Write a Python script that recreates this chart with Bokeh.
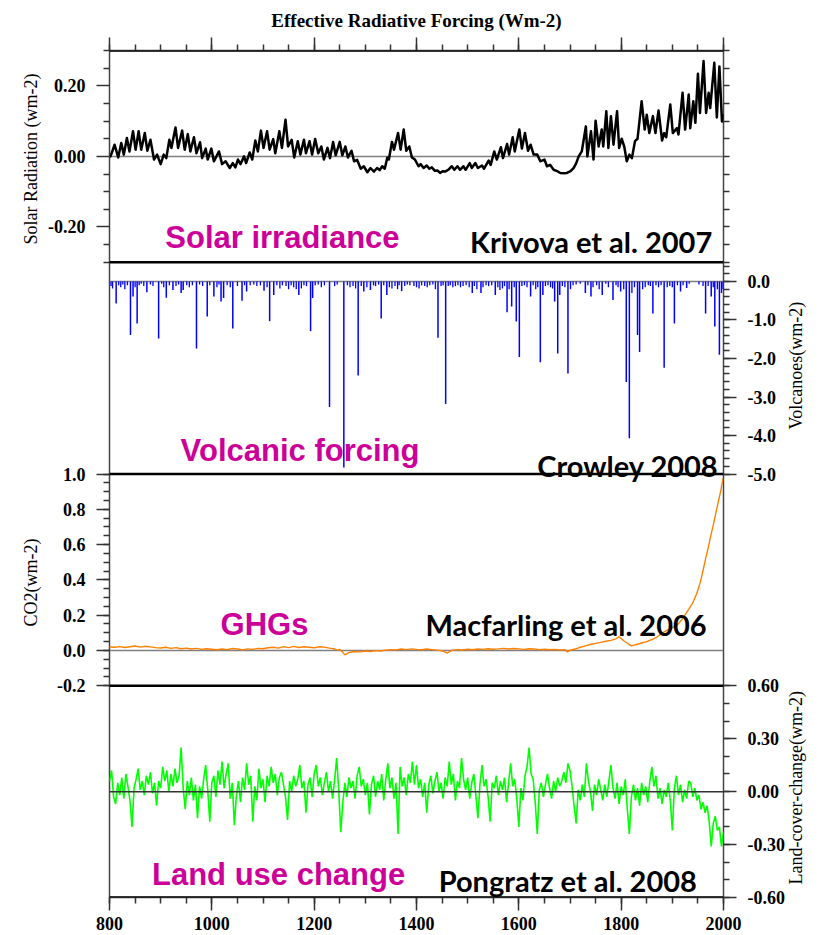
import math
from bokeh.plotting import figure
from bokeh.models import Range1d, LinearAxis, FixedTicker, Span, Label
from bokeh.embed import file_html
from bokeh.resources import INLINE

# ---------------- data ----------------
x_ticks = [800, 1000, 1200, 1400, 1600, 1800, 2000]
x_minor_ticks = list(range(800, 2001, 50))

solar_year = [
    800, 802, 810, 817, 823, 828, 834, 839, 846, 851,
    857, 862, 869, 874, 880, 887, 893, 900, 906, 911,
    917, 921, 929, 934, 942, 947, 953, 958, 965, 970,
    977, 981, 988, 992, 999, 1004, 1014, 1020, 1027, 1035,
    1041, 1046, 1051, 1056, 1063, 1067, 1074, 1079, 1085, 1090,
    1096, 1101, 1108, 1113, 1120, 1124, 1132, 1137, 1144, 1149,
    1156, 1161, 1168, 1173, 1180, 1184, 1191, 1196, 1202, 1208,
    1214, 1219, 1226, 1231, 1237, 1242, 1250, 1255, 1261, 1266,
    1273, 1278, 1284, 1291, 1297, 1304, 1310, 1317, 1323, 1328,
    1333, 1338, 1343, 1346, 1352, 1356, 1364, 1369, 1375, 1380,
    1386, 1391, 1397, 1404, 1408, 1414, 1420, 1425, 1430, 1436,
    1441, 1446, 1451, 1456, 1462, 1469, 1474, 1480, 1485, 1492,
    1496, 1504, 1508, 1515, 1520, 1528, 1532, 1541, 1545, 1552,
    1557, 1565, 1569, 1577, 1581, 1588, 1592, 1601, 1606, 1612,
    1618, 1623, 1629, 1636, 1642, 1650, 1655, 1661, 1668, 1675,
    1681, 1688, 1694, 1701, 1707, 1712, 1717, 1723, 1731, 1734,
    1741, 1746, 1750, 1756, 1762, 1765, 1771, 1775, 1780, 1785,
    1792, 1796, 1801, 1806, 1811, 1816, 1821, 1827, 1832, 1840,
    1846, 1850, 1855, 1862, 1867, 1873, 1880, 1884, 1888, 1896,
    1901, 1909, 1912, 1920, 1925, 1932, 1935, 1941, 1945, 1950,
    1954, 1961, 1966, 1971, 1974, 1982, 1987, 1992, 1997, 2000,
]
solar_value = [
    0.000, 0.000, 0.033, -0.003, 0.038, 0.005, 0.052, 0.014, 0.071, 0.019,
    0.071, 0.019, 0.066, 0.016, 0.047, -0.009, 0.005, -0.022, 0.005, -0.005,
    0.047, 0.024, 0.082, 0.024, 0.073, 0.019, 0.063, 0.014, 0.054, 0.009,
    0.040, -0.005, 0.022, -0.009, 0.022, -0.014, 0.014, -0.022, -0.014, -0.033,
    -0.019, -0.031, -0.009, -0.022, 0.000, -0.019, 0.011, -0.009, 0.045, 0.014,
    0.073, 0.024, 0.071, 0.019, 0.049, 0.009, 0.071, 0.024, 0.104, 0.028,
    0.047, -0.003, 0.043, 0.005, 0.047, 0.009, 0.043, 0.005, 0.049, 0.009,
    0.028, -0.009, 0.024, -0.005, 0.041, 0.003, 0.041, 0.003, 0.028, -0.003,
    0.016, -0.014, -0.010, -0.035, -0.028, -0.045, -0.033, -0.043, -0.033, -0.039,
    -0.028, -0.035, -0.003, -0.009, 0.041, 0.019, 0.066, 0.019, 0.076, 0.016,
    0.028, -0.003, -0.009, -0.028, -0.022, -0.033, -0.026, -0.035, -0.031, -0.041,
    -0.040, -0.047, -0.042, -0.043, -0.038, -0.028, -0.038, -0.028, -0.038, -0.028,
    -0.038, -0.019, -0.033, -0.019, -0.033, -0.026, -0.035, -0.012, -0.024, 0.014,
    -0.009, 0.026, -0.005, 0.035, 0.005, 0.054, 0.014, 0.076, 0.022, 0.066,
    0.016, 0.033, 0.005, 0.005, -0.014, -0.009, -0.028, -0.024, -0.038, -0.042,
    -0.047, -0.048, -0.047, -0.042, -0.033, -0.020, 0.000, 0.014, 0.085, 0.000,
    0.071, -0.009, 0.101, 0.028, 0.076, 0.028, 0.128, 0.024, 0.114, 0.033,
    0.128, 0.024, 0.050, 0.028, -0.014, 0.005, -0.005, 0.043, 0.050, 0.156,
    0.076, 0.118, 0.066, 0.114, 0.066, 0.130, 0.045, 0.066, 0.054, 0.147,
    0.066, 0.080, 0.062, 0.180, 0.076, 0.175, 0.080, 0.156, 0.095, 0.234,
    0.123, 0.270, 0.123, 0.180, 0.137, 0.265, 0.110, 0.255, 0.099, 0.120,
]

volc_major_year = [
    813, 841, 846, 854, 873, 896, 911, 924, 940, 944,
    970, 991, 1004, 1018, 1023, 1041, 1059, 1068, 1102, 1113,
    1121, 1170, 1193, 1197, 1230, 1258, 1286, 1297, 1310, 1331,
    1342, 1371, 1442, 1457, 1509, 1526, 1554, 1577, 1586, 1595,
    1601, 1623, 1642, 1647, 1670, 1676, 1680, 1696, 1730, 1741,
    1763, 1784, 1799, 1810, 1816, 1832, 1836, 1862, 1884, 1904,
    1916, 1928, 1965, 1976, 1983, 1992,
]
volc_major_value = [
    -0.57, -1.39, -0.39, -1.09, -0.28, -1.48, -0.42, -0.22, -0.30, -0.22,
    -1.74, -0.91, -0.39, -0.52, -0.43, -1.22, -0.50, -0.26, -0.24, -1.03,
    -0.35, -0.35, -1.29, -0.43, -3.26, -4.83, -2.44, -0.26, -0.22, -0.96,
    -0.35, -0.25, -1.46, -3.18, -0.30, -0.30, -0.35, -0.80, -0.65, -1.04,
    -1.96, -0.39, -2.10, -0.35, -0.52, -1.87, -0.35, -2.39, -0.30, -0.39,
    -0.35, -0.48, -0.26, -2.61, -4.07, -1.39, -1.83, -0.83, -2.24, -1.09,
    -0.26, -0.17, -0.83, -0.39, -1.17, -1.90,
]
volc_minor_year = [
    803, 806, 818, 822, 826, 830, 835, 850, 858, 862,
    867, 880, 885, 902, 906, 917, 930, 935, 951, 956,
    962, 976, 982, 996, 1010, 1014, 1030, 1036, 1050, 1064,
    1075, 1082, 1088, 1095, 1108, 1127, 1133, 1138, 1145, 1150,
    1155, 1160, 1165, 1175, 1180, 1185, 1202, 1208, 1214, 1220,
    1240, 1245, 1265, 1270, 1276, 1281, 1292, 1303, 1316, 1320,
    1326, 1336, 1347, 1352, 1358, 1363, 1366, 1377, 1382, 1387,
    1395, 1400, 1405, 1410, 1416, 1421, 1426, 1432, 1437, 1448,
    1452, 1462, 1466, 1471, 1476, 1481, 1486, 1491, 1497, 1503,
    1513, 1518, 1530, 1536, 1541, 1547, 1559, 1563, 1568, 1572,
    1581, 1591, 1606, 1611, 1616, 1628, 1633, 1637, 1652, 1657,
    1662, 1666, 1685, 1690, 1701, 1706, 1712, 1720, 1735, 1745,
    1752, 1757, 1770, 1775, 1790, 1794, 1805, 1821, 1826, 1842,
    1847, 1853, 1857, 1868, 1873, 1878, 1890, 1895, 1900, 1910,
    1921, 1933, 1952, 1960, 1970, 1980, 1988, 1996, 1999,
]
volc_minor_value = [
    -0.12, -0.18, -0.10, -0.15, -0.08, -0.20, -0.10, -0.15, -0.10, -0.06,
    -0.12, -0.08, -0.12, -0.06, -0.15, -0.10, -0.12, -0.08, -0.10, -0.15,
    -0.10, -0.08, -0.12, -0.10, -0.15, -0.08, -0.10, -0.15, -0.12, -0.10,
    -0.10, -0.08, -0.12, -0.10, -0.15, -0.10, -0.18, -0.10, -0.12, -0.20,
    -0.10, -0.15, -0.20, -0.18, -0.10, -0.12, -0.10, -0.08, -0.15, -0.10,
    -0.12, -0.08, -0.10, -0.15, -0.12, -0.18, -0.12, -0.15, -0.10, -0.12,
    -0.08, -0.10, -0.15, -0.18, -0.12, -0.20, -0.10, -0.12, -0.08, -0.10,
    -0.12, -0.15, -0.18, -0.10, -0.12, -0.15, -0.10, -0.08, -0.20, -0.12,
    -0.10, -0.12, -0.10, -0.15, -0.12, -0.10, -0.15, -0.12, -0.10, -0.15,
    -0.12, -0.20, -0.15, -0.10, -0.12, -0.10, -0.15, -0.22, -0.18, -0.12,
    -0.20, -0.15, -0.12, -0.10, -0.15, -0.10, -0.20, -0.15, -0.12, -0.10,
    -0.15, -0.18, -0.12, -0.15, -0.20, -0.10, -0.08, -0.06, -0.10, -0.15,
    -0.10, -0.20, -0.06, -0.15, -0.10, -0.15, -0.20, -0.30, -0.15, -0.20,
    -0.15, -0.10, -0.12, -0.10, -0.15, -0.10, -0.15, -0.12, -0.15, -0.10,
    -0.10, -0.06, -0.08, -0.12, -0.12, -0.15, -0.20, -0.30, -0.20,
]

ghg_year = [
    800, 810, 820, 830, 840, 850, 860, 870, 880, 890,
    900, 910, 920, 930, 940, 950, 960, 970, 980, 990,
    1000, 1010, 1020, 1030, 1040, 1050, 1060, 1070, 1080, 1090,
    1100, 1110, 1120, 1130, 1140, 1150, 1160, 1170, 1180, 1190,
    1200, 1210, 1220, 1230, 1240,
    1245, 1250, 1255, 1260, 1265, 1270,
    1280, 1290, 1300, 1310, 1320, 1330, 1340, 1350, 1360, 1370,
    1380, 1390, 1400, 1410, 1420, 1430, 1440, 1450,
    1455, 1460, 1465, 1470,
    1480, 1490, 1500, 1510, 1520, 1530, 1540, 1550, 1560, 1570,
    1580, 1590, 1600, 1610, 1620, 1630, 1640, 1650, 1660, 1670,
    1680, 1690,
    1695,
    1700, 1710, 1720, 1730, 1740, 1750, 1760, 1770, 1780, 1790,
    1795, 1800, 1805, 1810, 1815, 1820, 1825, 1830,
    1840, 1850, 1860, 1870, 1880, 1890, 1900, 1910, 1920, 1930, 1940,
    1948, 1955, 1961, 1965, 1970, 1974, 1980, 1987, 1990, 1995, 1999,
]
ghg_value = [
    0.020, 0.018, 0.022, 0.017, 0.021, 0.025, 0.019, 0.024, 0.020, 0.016,
    0.014, 0.018, 0.012, 0.016, 0.010, 0.013, 0.008, 0.012, 0.006, 0.010,
    0.007, 0.004, 0.008, 0.005, 0.011, 0.008, 0.003, 0.009, 0.006, 0.012,
    0.010, 0.015, 0.018, 0.013, 0.022, 0.016, 0.023, 0.017, 0.021, 0.018,
    0.015, 0.021, 0.019, 0.013, 0.008,
    0.002, 0.006, -0.008, -0.025, -0.016, -0.010,
    -0.006, -0.008, -0.003, -0.006, -0.001, -0.003, 0.002, 0.005, 0.003, 0.008,
    0.005, 0.009, 0.006, 0.004, 0.008, 0.005, 0.002, -0.002,
    -0.008, -0.015, -0.006, 0.002,
    0.005, 0.003, 0.007, 0.004, 0.008, 0.006, 0.010, 0.007, 0.009, 0.012,
    0.008, 0.011, 0.009, 0.006, 0.010, 0.008, 0.005, 0.007, 0.004, 0.006,
    0.003, 0.005,
    -0.008,
    0.001, 0.008, 0.018, 0.026, 0.034, 0.040, 0.046, 0.052, 0.057, 0.066,
    0.078, 0.068, 0.055, 0.045, 0.035, 0.026, 0.030, 0.034,
    0.042, 0.050, 0.062, 0.076, 0.098, 0.115, 0.130, 0.145, 0.180, 0.225, 0.270,
    0.324, 0.390, 0.466, 0.520, 0.580, 0.636, 0.710, 0.805, 0.845, 0.910, 0.975,
]

land_year = list(range(800, 2001, 4))
land_value = [
    # 800-896
    0.06, 0.12, -0.03, -0.07, 0.05, -0.02, 0.08, -0.04, 0.10, 0.03,
    -0.05, -0.20, 0.02, 0.07, 0.13, 0.01, 0.06, -0.02, 0.09, 0.04,
    0.11, -0.01, 0.05, -0.08, 0.06,
    # 900-996
    0.02, 0.14, 0.06, 0.12, 0.00, 0.10, 0.03, 0.13, 0.05, 0.09,
    0.25, 0.02, -0.10, 0.06, -0.02, 0.08, -0.05, 0.04, -0.15, 0.03,
    -0.04, 0.07, 0.15, 0.01, -0.17,
    # 1000-1096
    0.05, 0.09, -0.03, 0.12, 0.04, 0.17, 0.02, 0.10, 0.16, -0.04,
    0.05, -0.19, -0.02, 0.06, -0.06, 0.08, 0.01, 0.16, 0.04, 0.09,
    -0.17, 0.03, -0.05, 0.13, 0.02,
    # 1100-1196
    0.07, -0.06, 0.09, 0.03, 0.14, 0.05, 0.10, -0.02, 0.08, 0.11,
    0.04, -0.03, -0.16, 0.06, 0.00, 0.09, 0.03, 0.07, 0.15, 0.02,
    0.06, -0.12, 0.04, 0.08, -0.03,
    # 1200-1296
    0.10, 0.15, 0.03, 0.08, -0.02, 0.05, 0.11, 0.00, 0.06, -0.04,
    0.07, 0.19, 0.01, -0.23, -0.06, 0.05, -0.03, 0.08, 0.02, 0.06,
    -0.04, 0.09, 0.14, 0.03, 0.07,
    # 1300-1396
    -0.02, 0.05, -0.13, 0.04, 0.09, -0.03, 0.06, 0.01, 0.10, -0.05,
    0.07, 0.16, 0.02, 0.08, -0.04, 0.05, -0.24, 0.14, 0.03, 0.08,
    -0.02, 0.10, 0.05, 0.17, 0.04,
    # 1400-1496
    0.15, 0.02, 0.07, -0.03, 0.05, -0.12, 0.04, 0.09, -0.01, 0.06,
    0.11, 0.00, 0.05, -0.04, 0.08, 0.03, 0.17, 0.04, 0.10, -0.05,
    0.06, 0.02, 0.19, 0.07, 0.01,
    # 1500-1596
    0.08, -0.04, 0.05, 0.10, -0.02, -0.15, 0.04, 0.15, 0.03, 0.07,
    -0.03, -0.17, 0.05, 0.02, 0.09, -0.02, 0.06, 0.01, 0.08, -0.06,
    0.05, 0.16, 0.03, 0.07, -0.04,
    # 1600-1696
    -0.20, 0.02, -0.05, 0.09, 0.14, 0.25, 0.10, 0.07, -0.06, -0.24,
    0.01, 0.05, -0.03, 0.04, 0.10, 0.02, -0.04, 0.06, 0.00, 0.08,
    0.03, 0.06, 0.11, 0.05, 0.16,
    # 1700-1796
    0.12, 0.03, -0.08, -0.18, 0.01, -0.05, 0.04, -0.03, 0.16, 0.06,
    0.00, -0.11, 0.04, -0.02, 0.07, 0.01, -0.05, 0.04, -0.03, 0.06,
    0.15, 0.02, -0.04, 0.05, -0.07,
    # 1800-1896
    0.03, -0.02, 0.07, -0.10, -0.24, -0.03, 0.04, -0.05, 0.02, -0.08,
    0.05, -0.02, 0.03, -0.06, 0.06, 0.14, 0.03, 0.09, -0.04, 0.02,
    -0.07, 0.01, -0.03, 0.05, -0.05,
    # 1900-2000
    -0.22, 0.02, 0.09, -0.02, 0.04, -0.06, 0.01, -0.04, 0.06, 0.05,
    -0.03, 0.02, -0.05, -0.02, -0.10, -0.06, -0.12, -0.08, -0.17, -0.31,
    -0.18, -0.14, -0.22, -0.20, -0.31, -0.23,
]

# axis ticks of each panel
solar_ticks = [-0.2, 0.0, 0.2]
solar_tick_labels = ["-0.20", "0.00", "0.20"]
solar_minor = [-0.3, -0.25, -0.15, -0.1, -0.05, 0.05, 0.1, 0.15, 0.25, 0.3]
volc_ticks = [-5.0, -4.0, -3.0, -2.0, -1.0, 0.0]
volc_tick_labels = ["-5.0", "-4.0", "-3.0", "-2.0", "-1.0", "0.0"]
volc_minor = [round(-5.0 + 0.2 * k, 2) for k in range(28)]
ghg_ticks = [-0.2, 0.0, 0.2, 0.4, 0.6, 0.8, 1.0]
ghg_tick_labels = ["-0.2", "0.0", "0.2", "0.4", "0.6", "0.8", "1.0"]
ghg_minor = [round(-0.2 + 0.05 * k, 3) for k in range(25)]
land_ticks = [-0.6, -0.3, 0.0, 0.3, 0.6]
land_tick_labels = ["-0.60", "-0.30", "0.00", "0.30", "0.60"]
land_minor = [round(-0.6 + 0.1 * k, 2) for k in range(13)]

# axis titles: (panel, panel value where the text is anchored, text)
# left titles are anchored at their upper end, right titles at their lower end
left_titles = [("solar", 0.235, "Solar Radiation (wm-2)"), ("ghg", 0.634, "CO2(wm-2)")]
right_titles = [("volc", -3.844, "Volcanoes(wm-2)"), ("land", -0.526, "Land-cover-change(wm-2)")]

# panel layout: name -> (value range, slot counted from the bottom)
PANELS = {
    "solar": (-0.3, 0.3, 3),
    "volc": (-5.0, 0.5, 2),
    "ghg": (-0.2, 1.0, 1),
    "land": (-0.6, 0.6, 0),
}
NSLOT = 4

MAGENTA = "#CC0099"
SERIF = "Liberation Serif"

p = figure(
    frame_width=614, frame_height=847,
    x_range=Range1d(800, 2000), y_range=Range1d(0, NSLOT),
    x_axis_location=None, y_axis_location=None,
    toolbar_location=None, output_backend="svg",
    min_border_left=109, min_border_right=100,
    min_border_top=49, min_border_bottom=39,
    title="Effective Radiative Forcing (Wm-2)",
)
p.grid.visible = False
p.background_fill_color = "white"
p.border_fill_color = "white"
p.outline_line_color = "#444444"
p.outline_line_width = 1.5

p.title.align = "center"
p.title.text_font = SERIF
p.title.text_font_style = "bold"
p.title.text_font_size = "19px"
p.title.text_color = "black"
p.title.standoff = 14

for name, (lo, hi, slot) in PANELS.items():
    span = hi - lo
    p.extra_y_ranges[name] = Range1d(lo - slot * span, hi + (NSLOT - 1 - slot) * span)


def pos(name, v):
    lo, hi, slot = PANELS[name]
    return round(slot + (v - lo) / (hi - lo), 6)


def style_axis(ax, show_labels=True):
    ax.axis_line_color = None
    ax.major_tick_line_color = "#333333"
    ax.minor_tick_line_color = "#333333"
    ax.major_tick_line_width = 1.5
    ax.minor_tick_line_width = 1.5
    ax.major_tick_in = 0
    ax.major_tick_out = 13
    ax.minor_tick_in = 0
    ax.minor_tick_out = 6
    ax.major_label_text_font = SERIF
    ax.major_label_text_font_style = "bold"
    if show_labels:
        ax.major_label_text_color = "black"
        ax.major_label_text_font_size = "18px"
        ax.major_label_standoff = 11
    else:
        ax.major_label_text_color = None
        ax.major_label_text_font_size = "0px"
        ax.major_label_standoff = 0


# x axes
xb = LinearAxis(ticker=FixedTicker(ticks=x_ticks, minor_ticks=x_minor_ticks))
style_axis(xb)
xb.major_label_standoff = 6
p.add_layout(xb, "below")
xa = LinearAxis(ticker=FixedTicker(ticks=x_ticks, minor_ticks=x_minor_ticks))
style_axis(xa, show_labels=False)
p.add_layout(xa, "above")

# left axis: solar + ghg
left_major, left_minor, left_labels = [], [], {}
for name, ticks, labels, minors in [("solar", solar_ticks, solar_tick_labels, solar_minor),
                                     ("ghg", ghg_ticks, ghg_tick_labels, ghg_minor)]:
    for t, lab in zip(ticks, labels):
        q = pos(name, t)
        left_major.append(q)
        left_labels[q] = lab
    left_minor += [pos(name, m) for m in minors]
yl = LinearAxis(ticker=FixedTicker(ticks=left_major, minor_ticks=left_minor),
                major_label_overrides=left_labels)
style_axis(yl)
p.add_layout(yl, "left")

# right axis: solar (unlabelled ticks) + volcanoes + land
right_major, right_minor, right_labels = [], [], {}
right_minor += [pos("solar", t) for t in solar_ticks] + [pos("solar", m) for m in solar_minor]
for name, ticks, labels, minors in [("volc", volc_ticks, volc_tick_labels, volc_minor),
                                     ("land", land_ticks, land_tick_labels, land_minor)]:
    for t, lab in zip(ticks, labels):
        q = pos(name, t)
        right_major.append(q)
        right_labels[q] = lab
    right_minor += [pos(name, m) for m in minors]
yr = LinearAxis(ticker=FixedTicker(ticks=right_major, minor_ticks=right_minor),
                major_label_overrides=right_labels)
style_axis(yr)
p.add_layout(yr, "right")


# axis titles as rotated labels of an outer, tick-less axis
def title_axis(titles, standoff):
    ticks, labels = [], {}
    for name, v, text in titles:
        q = pos(name, v)
        ticks.append(q)
        labels[q] = text
    ax = LinearAxis(ticker=FixedTicker(ticks=ticks, minor_ticks=[]),
                    major_label_overrides=labels)
    ax.axis_line_color = None
    ax.major_tick_line_color = None
    ax.minor_tick_line_color = None
    ax.major_tick_in = 0
    ax.major_tick_out = 0
    ax.minor_tick_in = 0
    ax.minor_tick_out = 0
    ax.major_label_orientation = math.pi / 2
    ax.major_label_standoff = standoff
    ax.major_label_text_font = SERIF
    ax.major_label_text_font_style = "normal"
    ax.major_label_text_font_size = "18px"
    ax.major_label_text_color = "black"
    return ax


p.add_layout(title_axis(left_titles, 14), "left")
p.add_layout(title_axis(right_titles, 9), "right")

# zero lines
for name, col, lvl in [("solar", "#808080", "underlay"), ("volc", "#808080", "underlay"),
                       ("ghg", "#808080", "underlay"), ("land", "#333333", "annotation")]:
    p.add_layout(Span(location=0, dimension="width", y_range_name=name,
                      line_color=col, line_width=1.5, level=lvl))

# series
p.line(solar_year, solar_value, y_range_name="solar", line_color="black",
       line_width=2.5, line_join="round")
p.segment(x0=volc_minor_year, y0=[0] * len(volc_minor_year), x1=volc_minor_year,
          y1=volc_minor_value, y_range_name="volc", line_color="#0000FF", line_width=1.3)
p.segment(x0=volc_major_year, y0=[0] * len(volc_major_year), x1=volc_major_year,
          y1=volc_major_value, y_range_name="volc", line_color="#0000FF", line_width=1.5)
p.line(ghg_year, ghg_value, y_range_name="ghg", line_color="#FF8000", line_width=1.4)
p.line(land_year, land_value, y_range_name="land", line_color="#00FF00", line_width=1.6)

# thick horizontal panel borders
for b in range(NSLOT + 1):
    p.add_layout(Span(location=b, dimension="width", line_color="black", line_width=2.5))


def add_label(name, x, y, text, align, font, size, color):
    p.add_layout(Label(x=x, y=y, y_range_name=name, text=text, text_align=align,
                       text_baseline="alphabetic", text_font=font, text_font_size=size,
                       text_font_style="bold", text_color=color))


# panel annotations
add_label("solar", 909, -0.230, "Solar irradiance", "left", "Liberation Sans", "31px", MAGENTA)
add_label("solar", 1978, -0.241, "Krivova et al. 2007", "right", "Lato", "29px", "black")
add_label("volc", 939, -4.39, "Volcanic forcing", "left", "Liberation Sans", "31px", MAGENTA)
add_label("volc", 1990, -4.79, "Crowley 2008", "right", "Lato", "29px", "black")
add_label("ghg", 1017, 0.145, "GHGs", "left", "Liberation Sans", "31px", MAGENTA)
add_label("ghg", 1967, 0.145, "Macfarling et al. 2006", "right", "Lato", "29px", "black")
add_label("land", 883, -0.471, "Land use change", "left", "Liberation Sans", "31px", MAGENTA)
add_label("land", 1948, -0.504, "Pongratz et al. 2008", "right", "Lato", "29px", "black")

open("out.html", "w").write(file_html(p, INLINE, "Effective Radiative Forcing"))
